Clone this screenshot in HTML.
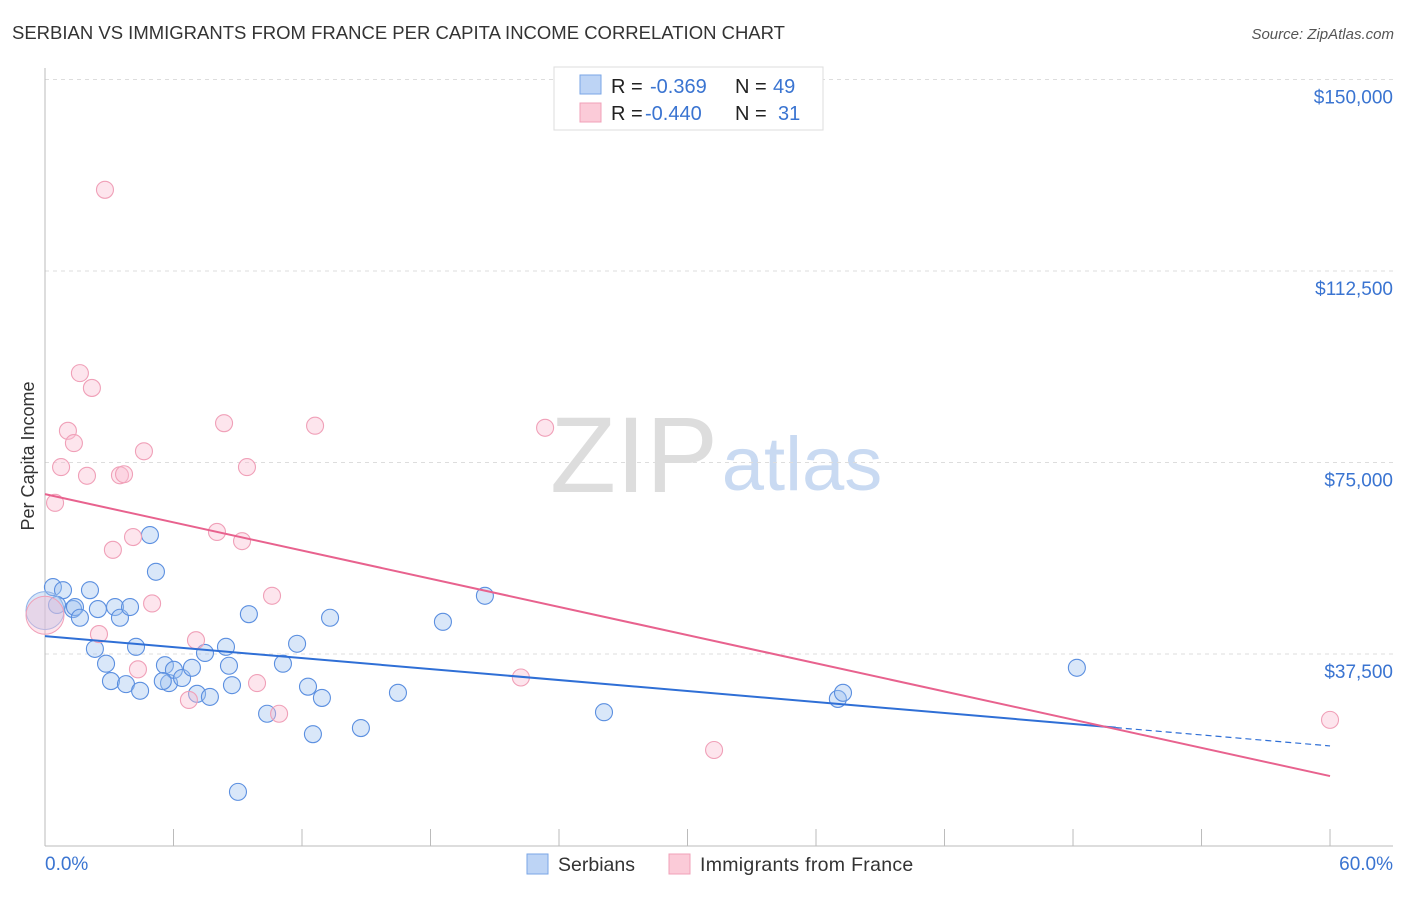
<!DOCTYPE html>
<html><head><meta charset="utf-8"><style>
body{margin:0;background:#fff;font-family:"Liberation Sans",sans-serif;}
svg text{font-family:"Liberation Sans",sans-serif;}
</style></head><body>
<svg id="chart" width="1406" height="892" xmlns="http://www.w3.org/2000/svg">
<text x="12" y="39" font-size="18.5" fill="#333">SERBIAN VS IMMIGRANTS FROM FRANCE PER CAPITA INCOME CORRELATION CHART</text>
<text x="1394" y="39" font-size="15" fill="#555" font-style="italic" text-anchor="end">Source: ZipAtlas.com</text>
<text x="34" y="456" font-size="18" fill="#333" text-anchor="middle" transform="rotate(-90 34 456)">Per Capita Income</text>
<text x="634" y="492" font-size="108" fill="#ddd" font-family="Liberation Serif,serif" text-anchor="middle">ZIP</text>
<text x="802" y="490" font-size="76" fill="#c9daf2" text-anchor="middle">atlas</text>
<g id="grid"></g><g id="axes"></g><g id="pts"></g><g id="lines"></g>
<g>
<rect x="554" y="67" width="269" height="63" fill="#fff" stroke="#ddd"/>
<rect x="580" y="75" width="21" height="19" fill="#bdd4f5" stroke="#7aa6e6"/>
<rect x="580" y="103" width="21" height="19" fill="#fbcbd8" stroke="#f0a0b8"/>
<text x="611" y="93" font-size="20" fill="#222">R = </text><text x="650" y="93" font-size="20" fill="#3a74d1">-0.369</text>
<text x="735" y="93" font-size="20" fill="#222">N = </text><text x="773" y="93" font-size="20" fill="#3a74d1">49</text>
<text x="611" y="120" font-size="20" fill="#222">R = </text><text x="645" y="120" font-size="20" fill="#3a74d1">-0.440</text>
<text x="735" y="120" font-size="20" fill="#222">N = </text><text x="778" y="120" font-size="20" fill="#3a74d1">31</text>
</g>
<g>
<rect x="527" y="854" width="21" height="20" fill="#bdd4f5" stroke="#7aa6e6"/>
<text x="558" y="871" font-size="19.5" fill="#333">Serbians</text>
<rect x="669" y="854" width="21" height="20" fill="#fbcbd8" stroke="#f0a0b8"/>
<text x="700" y="871" font-size="19.5" fill="#333" letter-spacing="0.3">Immigrants from France</text>
</g>
</svg>
<script>
const yTicks=[37.5,75,112.5,150];
const yTickLabels=["$37,500","$75,000","$112,500","$150,000"];
const xTickLabels=["0.0%","60.0%"];
const blueX=[0.37,0.84,1.31,2.10,0.56,1.40,1.63,2.47,3.27,3.50,3.97,4.90,5.18,2.33,2.85,3.08,3.78,4.44,4.25,5.60,5.79,6.02,6.40,6.86,7.10,7.70,7.47,8.45,8.59,8.73,9.52,10.37,11.11,12.28,12.51,12.93,11.77,13.31,14.75,16.48,18.58,20.54,26.10,37.02,37.26,48.18,9.01,5.5];
const blueY=[50.6,50.0,46.3,50.0,47.1,46.7,44.6,46.3,46.7,44.6,46.7,60.8,53.6,38.5,35.6,32.2,31.6,30.3,38.9,35.3,31.8,34.4,32.8,34.8,29.7,29.1,37.7,38.9,35.2,31.4,45.3,25.8,35.6,31.1,21.8,28.9,39.5,44.6,23.0,29.9,43.8,48.9,26.1,28.7,29.9,34.8,10.5,32.2];
const pinkX=[2.80,1.63,2.19,1.07,1.35,0.75,1.96,0.47,4.62,3.50,3.69,3.17,4.11,5.00,2.52,4.34,6.72,7.05,8.03,8.36,9.20,9.43,9.90,10.60,10.93,12.61,22.22,23.35,31.24,60.0];
const pinkY=[128.4,92.5,89.6,81.2,78.8,74.1,72.4,67.1,77.2,72.5,72.7,57.9,60.4,47.4,41.4,34.5,28.5,40.2,61.4,82.7,59.6,74.1,31.8,48.9,25.8,82.2,32.9,81.8,18.7,24.6];
const bigPoints=[[0,46.0,"blue"],[0,45.1,"pink"]];
const blueTrend=[41.0,19.5],blueSolidEnd=50;
const pinkTrend=[68.8,13.6];
const NS="http://www.w3.org/2000/svg";
const sx=v=>45+v*21.417, sy=v=>845.5-v*5.1067;
function mk(t,a,p){const e=document.createElementNS(NS,t);for(const k in a)e.setAttribute(k,a[k]);document.getElementById(p).appendChild(e);return e;}
let e;
yTicks.forEach((t,i)=>{
 e=mk('line',{x1:45,x2:1393,y1:sy(t),y2:sy(t),stroke:'#ddd','stroke-dasharray':'4 4'},'grid');
 
 
 e=mk('text',{x:1393,y:sy(t)+24,'font-size':19,fill:'#3a74d1','text-anchor':'end'},'grid');e.textContent=yTickLabels[i];
 
 
});
e=mk('line',{x1:45,x2:45,y1:68,y2:846,stroke:'#bbb'},'axes');


e=mk('line',{x1:45,x2:1393,y1:846,y2:846,stroke:'#bbb'},'axes');


for(let i=0;i<=10;i++){e=mk('line',{x1:sx(i*6),x2:sx(i*6),y1:829,y2:846,stroke:'#bbb'},'axes');
 
 }
e=mk('text',{x:45,y:870,'font-size':19,fill:'#3a74d1'},'axes');e.textContent=xTickLabels[0];


e=mk('text',{x:1393,y:870,'font-size':19,fill:'#3a74d1','text-anchor':'end'},'axes');e.textContent=xTickLabels[1];


blueX.forEach((x,i)=>{e=mk('circle',{cx:sx(x),cy:sy(blueY[i]),r:8.5,fill:'rgba(160,195,240,0.4)',stroke:'#5b8fe0','stroke-width':1.1},'pts');
 
 });
pinkX.forEach((x,i)=>{e=mk('circle',{cx:sx(x),cy:sy(pinkY[i]),r:8.5,fill:'rgba(250,190,210,0.4)',stroke:'#f0a0b8','stroke-width':1.1},'pts');
 
 });
bigPoints.forEach(p=>{e=mk('circle',{cx:sx(p[0]),cy:sy(p[1]),r:19,fill:p[2]=='blue'?'rgba(160,195,240,0.4)':'rgba(250,190,210,0.4)',stroke:p[2]=='blue'?'#8fb2e8':'#f0a0b8'},'pts');
 
 });
const by=x=>blueTrend[0]+(blueTrend[1]-blueTrend[0])*x/60;
e=mk('line',{x1:sx(0),y1:sy(by(0)),x2:sx(blueSolidEnd),y2:sy(by(blueSolidEnd)),stroke:'#2f6fd6','stroke-width':2},'lines');


e=mk('line',{x1:sx(blueSolidEnd),y1:sy(by(blueSolidEnd)),x2:sx(60),y2:sy(by(60)),stroke:'#2f6fd6','stroke-width':1.2,'stroke-dasharray':'6 4'},'lines');


e=mk('line',{x1:sx(0),y1:sy(pinkTrend[0]),x2:sx(60),y2:sy(pinkTrend[1]),stroke:'#e8628e','stroke-width':2},'lines');


</script>
</body></html>
